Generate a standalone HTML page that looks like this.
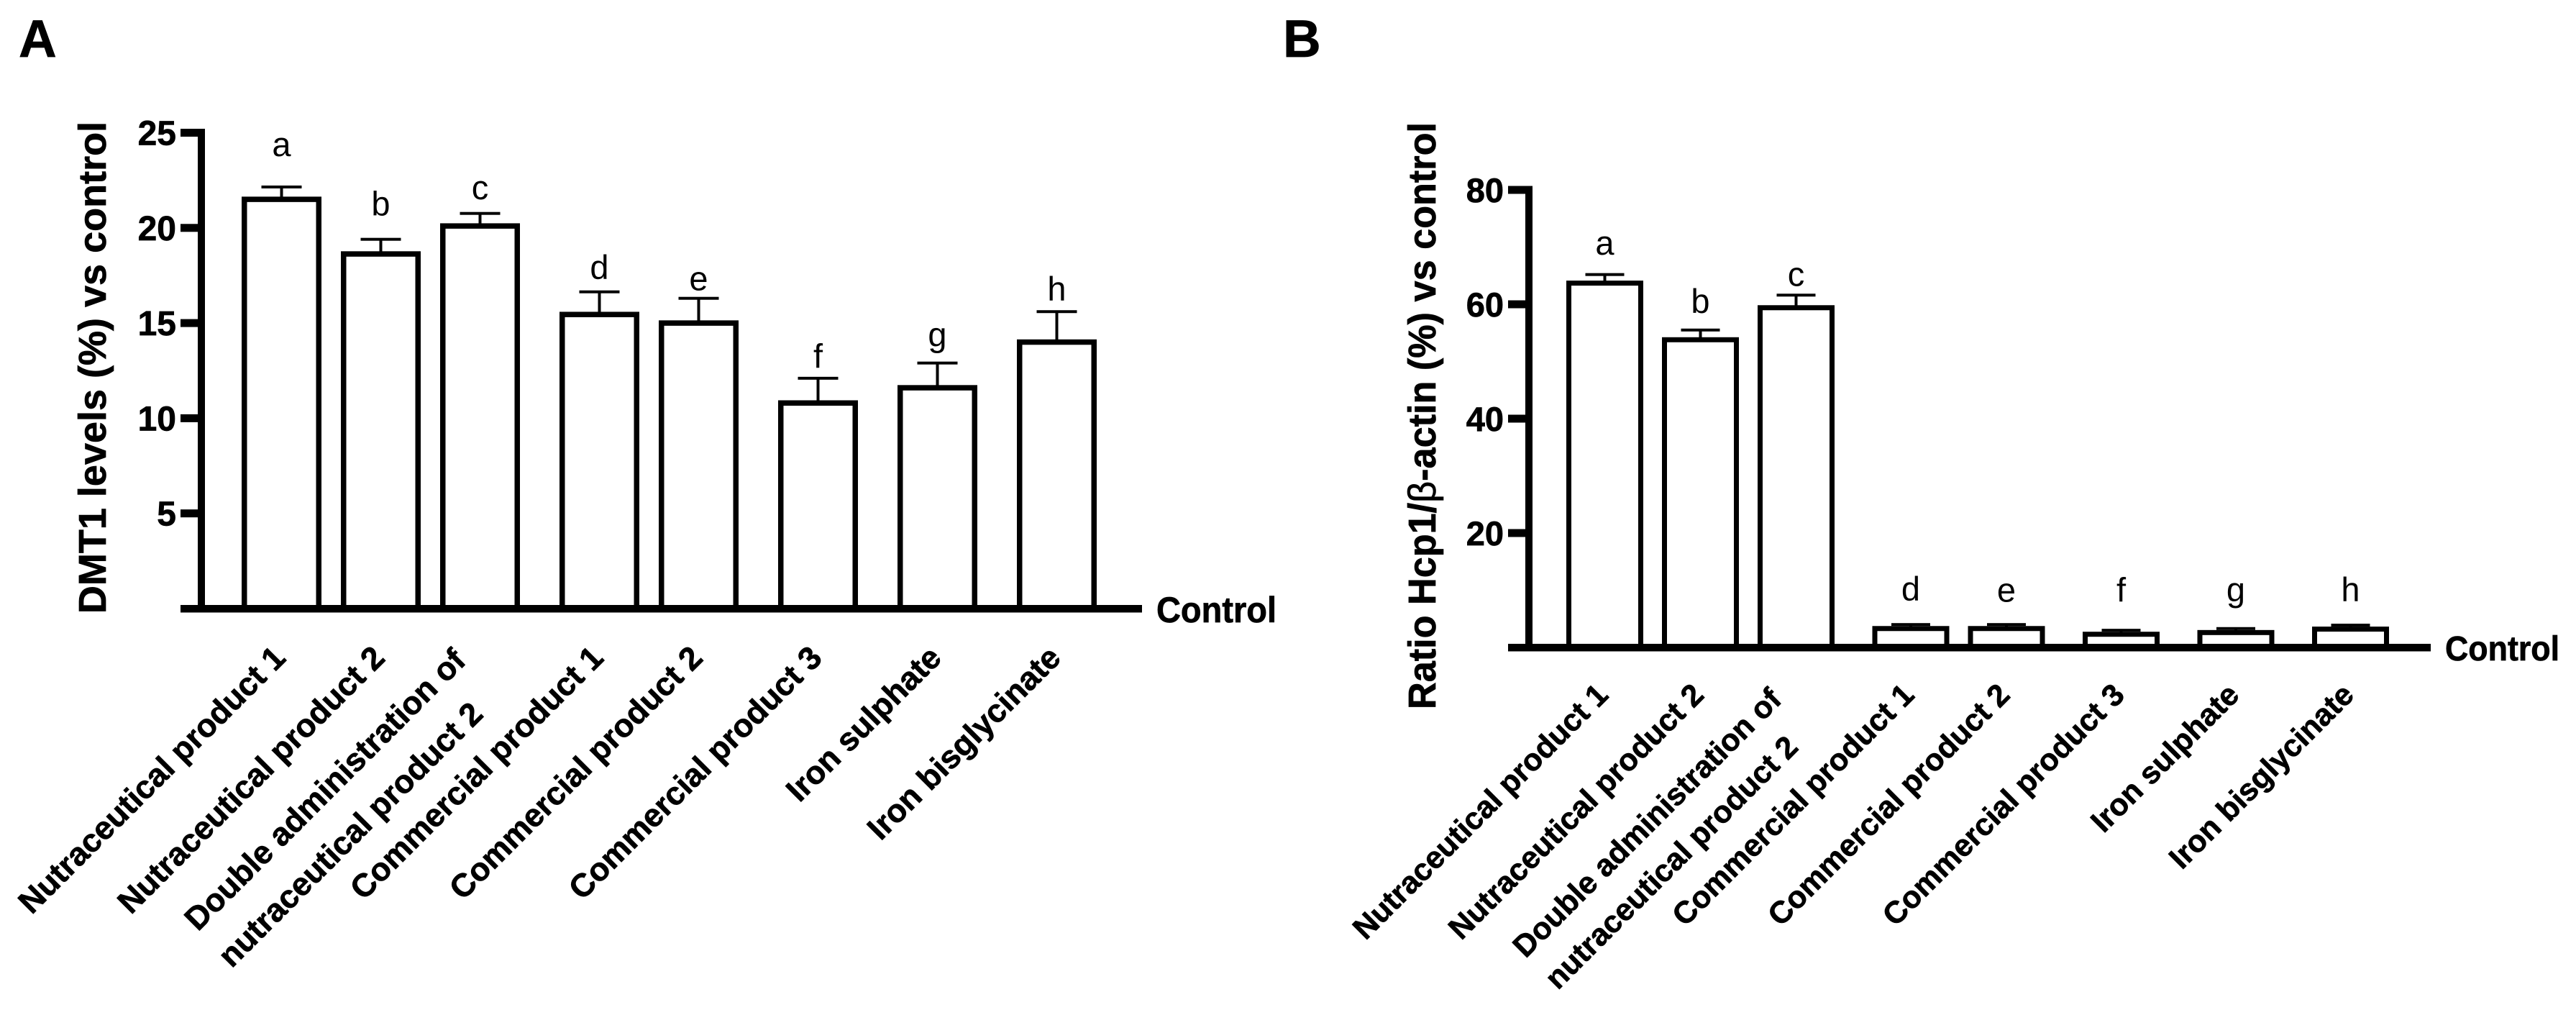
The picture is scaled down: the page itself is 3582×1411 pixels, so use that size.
<!DOCTYPE html>
<html lang="en">
<head>
<meta charset="utf-8">
<title>DMT1 and Hcp1 levels vs control</title>
<style>
html,body{margin:0;padding:0;background:#fff;}
svg{display:block;font-family:"Liberation Sans",Arial,sans-serif;}
text[font-weight="700"]{stroke:#000;stroke-width:0.7px;}
</style>
</head>
<body>
<svg id="figure" xmlns="http://www.w3.org/2000/svg" width="3582" height="1411" viewBox="0 0 3582 1411">
  <rect x="0" y="0" width="3582" height="1411" fill="#fff"/>
  <text x="26" y="79" font-size="73" font-weight="700">A</text>
  <text x="1784" y="79" font-size="73" font-weight="700">B</text>
  <text transform="translate(147 511) rotate(-90)" text-anchor="middle" font-size="54" font-weight="700">DMT1 levels (%) vs control</text>
  <text transform="translate(1996 578) rotate(-90)" text-anchor="middle" font-size="54" font-weight="700" textLength="816" lengthAdjust="spacingAndGlyphs">Ratio Hcp1/<tspan font-weight="400">β</tspan>-actin (%) vs control</text>
  <text x="1608" y="865" font-size="50" font-weight="700" textLength="167" lengthAdjust="spacingAndGlyphs">Control</text>
  <text x="3400" y="918" font-size="48" font-weight="700" textLength="159" lengthAdjust="spacingAndGlyphs">Control</text>
  <g id="panel-a"></g>
  <g id="panel-b"></g>
</svg>
<script>
// ---- chart data ----
var categories = [
  "Nutraceutical product 1",
  "Nutraceutical product 2",
  "Double administration of\nnutraceutical product 2",
  "Commercial product 1",
  "Commercial product 2",
  "Commercial product 3",
  "Iron sulphate",
  "Iron bisglycinate"
];
var letters = ["a", "b", "c", "d", "e", "f", "g", "h"];
var categoryGroups = [0, 0, 0, 1, 1, 2, 3, 4];

var dmt1Values = [21.5, 18.63, 20.1, 15.45, 15.0, 10.8, 11.6, 14.0];
var dmt1Errors = [0.65, 0.77, 0.66, 1.19, 1.3, 1.3, 1.3, 1.6];
var dmt1LetterGaps = [1.63, 1.25, 0.75, 0.67, 0.42, 0.55, 0.9, 0.57];
var dmt1Ticks = [25, 20, 15, 10, 5];

var hcp1Values = [63.7, 53.8, 59.4, 3.3, 3.3, 2.3, 2.6, 3.2];
var hcp1Errors = [1.5, 1.7, 2.2, 0.7, 0.7, 0.7, 0.7, 0.7];
var hcp1LetterGaps = [3.46, 3.0, 1.6, 4.15, 4.0, 5.0, 4.8, 4.15];
var hcp1Ticks = [80, 60, 40, 20];

// ---- drawing ----
var NS = "http://www.w3.org/2000/svg";

function make(tag, parent, attrs, text) {
  var el = document.createElementNS(NS, tag);
  for (var k in attrs) { el.setAttribute(k, attrs[k]); }
  if (text !== undefined) { el.textContent = text; }
  parent.appendChild(el);
  return el;
}

function drawPanel(root, key, cfg, values, errors, gaps, ticks) {
  function yScale(v) { return cfg.y0 - v * cfg.pxPerUnit; }
  function xScale(i) { return cfg.x0 + i * cfg.step + categoryGroups[i] * cfg.groupGap; }

  values.forEach(function (v, i) {
    var c = xScale(i);
    var topY = yScale(v);
    var errY = yScale(v + errors[i]);

    var stem = make("rect", root, {x: c - 2, y: errY, width: 4, height: topY - errY, fill: "#000"});
    
    

    var cap = make("rect", root, {x: c - cfg.capW / 2, y: errY - 2, width: cfg.capW, height: 4, fill: "#000"});
    
    

    var bar = make("rect", root, {
      x: c - cfg.barW / 2, y: topY, width: cfg.barW, height: cfg.y0 - topY,
      fill: "#fff", stroke: "#000", "stroke-width": cfg.barStroke
    });
    
    

    var sig = make("text", root, {
      x: c, y: errY - gaps[i] * cfg.pxPerUnit, "text-anchor": "middle",
      "font-size": cfg.letterSize
    }, letters[i]);
    
    

    var lines = categories[i].split("\n");
    lines.forEach(function (line, n) {
      var ax = lines.length > 1 ? c + (n === 0 ? cfg.twoLineDx1 : cfg.twoLineDx2) : c + cfg.labelDx;
      var ay = lines.length > 1 ? (n === 0 ? cfg.twoLineY1 : cfg.twoLineY2) : cfg.labelY;
      var lab = make("text", root, {
        transform: "translate(" + ax + " " + ay + ") rotate(-45)",
        "text-anchor": "end", "font-size": cfg.labelSize, "font-weight": 700
      }, line);
      
      
    });
  });

  ticks.forEach(function (t) {
    var ty = yScale(t);
    var mark = make("rect", root, {x: cfg.tickX, y: ty - 5.5, width: cfg.axisX - cfg.tickX, height: 11, fill: "#000"});
    
    

    var lab = make("text", root, {
      x: cfg.tickLabelX, y: ty + 17, "text-anchor": "end",
      "font-size": cfg.tickSize, "font-weight": 700
    }, String(t));
    
    
  });

  var axisTop = yScale(ticks[0]) - 5.5;
  var yAxis = make("rect", root, {x: cfg.axisX, y: axisTop, width: 10, height: cfg.y0 - axisTop, fill: "#000"});
  
  

  var xAxis = make("rect", root, {x: cfg.tickX, y: cfg.y0 - 5, width: cfg.axisEnd - cfg.tickX, height: 10.5, fill: "#000"});
  
  
}

drawPanel(document.getElementById("panel-a"), "a", {
  y0: 846, pxPerUnit: 26.46, x0: 391.5, step: 138, groupGap: 28,
  barW: 103.5, barStroke: 7.5, capW: 56, letterSize: 47,
  tickX: 251, axisX: 275, axisEnd: 1588, tickLabelX: 245, tickSize: 48,
  labelSize: 45, labelDx: 8, labelY: 917,
  twoLineDx1: -17.5, twoLineY1: 921, twoLineDx2: 6.5, twoLineY2: 995
}, dmt1Values, dmt1Errors, dmt1LetterGaps, dmt1Ticks);

drawPanel(document.getElementById("panel-b"), "b", {
  y0: 900, pxPerUnit: 7.95, x0: 2231.5, step: 133, groupGap: 26.5,
  barW: 100, barStroke: 7, capW: 54, letterSize: 47,
  tickX: 2097, axisX: 2121, axisEnd: 3380, tickLabelX: 2091, tickSize: 47,
  labelSize: 43, labelDx: 7, labelY: 968.5,
  twoLineDx1: -18, twoLineY1: 975, twoLineDx2: 5, twoLineY2: 1041
}, hcp1Values, hcp1Errors, hcp1LetterGaps, hcp1Ticks);
</script>
</body>
</html>
